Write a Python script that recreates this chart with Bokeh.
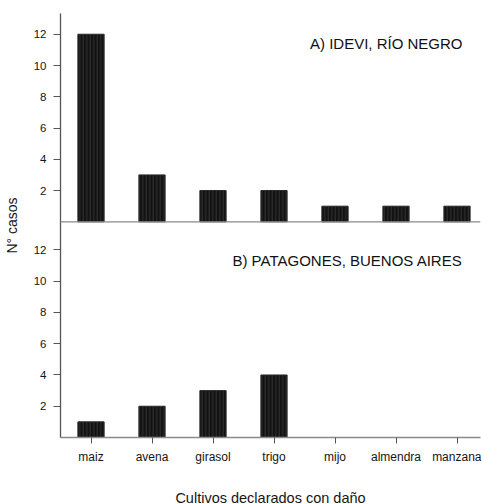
from bokeh.plotting import figure
from bokeh.models import Range1d, FixedTicker, CustomJSTickFormatter, Span, Label
from bokeh.embed import file_html
from bokeh.resources import INLINE

# ---- data ----
crops = ["maiz", "avena", "girasol", "trigo", "mijo", "almendra", "manzana"]
idevi = [12, 3, 2, 2, 1, 1, 1]          # A) IDEVI, Río Negro
patagones = [1, 2, 3, 4, 0, 0, 0]       # B) Patagones, Buenos Aires
y_ticks = [2, 4, 6, 8, 10, 12]
title_a = "A) IDEVI, RÍO NEGRO"
title_b = "B) PATAGONES, BUENOS AIRES"
x_label = "Cultivos declarados con daño"
y_label = "N° casos"

# ---- layout constants ----
FONT = "Liberation Sans"
FRAME_LEFT, FRAME_TOP = 60, 13
FRAME_W, FRAME_H = 420, 424
PX_PER_CAT = 61.0
PX_PER_UNIT = 15.63
TOP_ZERO_OFFSET = 13.8      # units between bottom-panel zero and top-panel zero

xpos = list(range(len(crops)))
x_start = -0.5
x_end = x_start + FRAME_W / PX_PER_CAT
y_end = FRAME_H / PX_PER_UNIT

p = figure(
    frame_width=FRAME_W, frame_height=FRAME_H,
    min_border_left=FRAME_LEFT, min_border_right=1, min_border_top=FRAME_TOP,
    min_border_bottom=67,
    x_range=Range1d(x_start, x_end), y_range=Range1d(0, y_end),
    output_backend="svg", toolbar_location=None, tools="",
)
p.extra_y_ranges = {"top": Range1d(-TOP_ZERO_OFFSET, y_end - TOP_ZERO_OFFSET)}
p.outline_line_color = None
p.grid.visible = False
p.background_fill_color = "white"
p.border_fill_color = "white"

bar_kw = dict(width=0.43, fill_color="#121212", line_color="#2a2a2a", line_width=1,
              hatch_pattern="|", hatch_color="#333333", hatch_scale=3.5, hatch_weight=1)
p.vbar(x=xpos, top=patagones, bottom=0, **bar_kw)
p.vbar(x=xpos, top=idevi, bottom=0, y_range_name="top", **bar_kw)

# top panel baseline
p.add_layout(Span(location=0, dimension="width", y_range_name="top",
                  line_color="#8a8a8a", line_width=1.3))

# x axis
xa = p.xaxis[0]
xa.ticker = FixedTicker(ticks=xpos)
xa.major_label_overrides = {i: c for i, c in zip(xpos, crops)}
xa.axis_line_color = "#8a8a8a"
xa.axis_line_width = 1.3
xa.major_tick_line_color = "#555555"
xa.major_tick_in = 0
xa.major_tick_out = 6
xa.minor_tick_line_color = None
xa.major_label_standoff = 6
xa.major_label_text_font = FONT
xa.major_label_text_font_size = "12px"
xa.major_label_text_color = "#151515"
xa.axis_label = x_label
xa.axis_label_text_font = FONT
xa.axis_label_text_font_size = "14.5px"
xa.axis_label_text_font_style = "normal"
xa.axis_label_text_color = "#151515"
xa.axis_label_standoff = 23

# y axis: ticks for both panels on one axis line
ya = p.yaxis[0]
ya.ticker = FixedTicker(ticks=y_ticks + [t + TOP_ZERO_OFFSET for t in y_ticks])
ya.formatter = CustomJSTickFormatter(args=dict(off=TOP_ZERO_OFFSET), code="""
    const v = tick > off - 0.5 ? tick - off : tick;
    return Math.round(v).toString();
""")
ya.axis_line_color = "#555555"
ya.axis_line_width = 1.3
ya.major_tick_line_color = "#555555"
ya.major_tick_in = 0
ya.major_tick_out = 7
ya.minor_tick_line_color = None
ya.major_label_standoff = 7
ya.major_label_text_font = FONT
ya.major_label_text_font_size = "11.5px"
ya.major_label_text_color = "#151515"
ya.axis_label = y_label
ya.axis_label_text_font = FONT
ya.axis_label_text_font_size = "14px"
ya.axis_label_text_font_style = "normal"
ya.axis_label_text_color = "#151515"
ya.axis_label_standoff = 11

# panel titles
title_x = (462 - FRAME_LEFT) / PX_PER_CAT + x_start
p.add_layout(Label(x=title_x, y=(221.3 - 43) / PX_PER_UNIT, y_range_name="top",
                   text=title_a, text_align="right", text_baseline="middle",
                   text_font=FONT, text_font_size="15px", text_color="#111111"))
p.add_layout(Label(x=title_x, y=(437 - 260) / PX_PER_UNIT,
                   text=title_b, text_align="right", text_baseline="middle",
                   text_font=FONT, text_font_size="15px", text_color="#111111"))

open("out.html", "w").write(file_html(p, INLINE))
